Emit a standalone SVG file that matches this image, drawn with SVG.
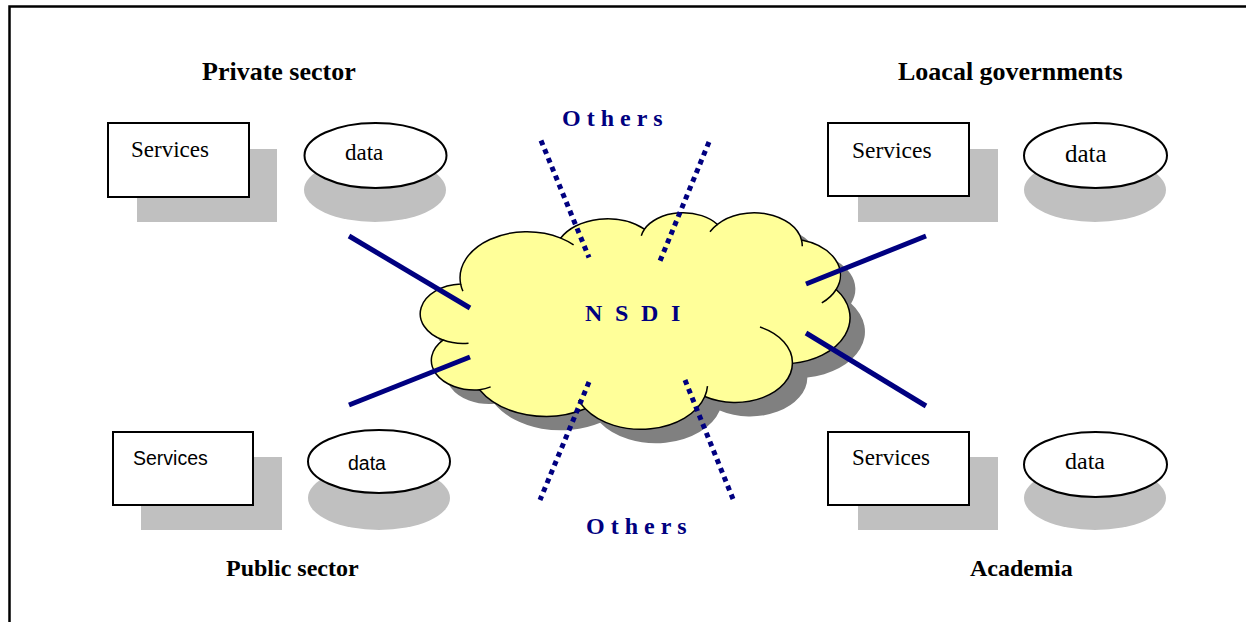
<svg xmlns="http://www.w3.org/2000/svg" width="1246" height="622" viewBox="0 0 1246 622">
<style>
.box{fill:#fff;stroke:#000;stroke-width:2}
.sh{fill:#c0c0c0}
.ell{fill:#fff;stroke:#000;stroke-width:2}
.tt{font-family:"Liberation Serif","Times New Roman",serif;fill:#000}
.ta{font-family:"Liberation Sans",Arial,sans-serif;fill:#000}
.title{font-family:"Liberation Serif","Times New Roman",serif;font-weight:bold;fill:#000}
.blue{font-family:"Liberation Serif","Times New Roman",serif;font-weight:bold;fill:#000080}
.solid{stroke:#000080;stroke-width:5;fill:none}
.dot{stroke:#000080;stroke-width:5;stroke-dasharray:5 4.5;fill:none}
</style>
<defs>
<path id="cloudPath" vector-effect="non-scaling-stroke" d="M 3900 14370 A 6753 9190 0 0 1 14006 5203 A 5333 7267 0 0 1 22457 3434 A 4365 5945 0 0 1 29834 2481 A 4857 6595 0 0 1 38319 5577 A 5333 7273 0 0 1 41819 15461 A 6775 9220 0 0 1 37404 30203 A 5785 7867 0 0 1 28556 36813 A 6752 9215 0 0 1 16482 39266 A 7720 10543 0 0 1 5806 35472 A 4360 5918 0 0 1 2115 25550 A 4345 5945 0 0 1 3900 14370 Z"/>
</defs>
<rect x="9.5" y="6.5" width="1300" height="700" fill="#fff" stroke="#000" stroke-width="2.5"/>

<g id="private-sector">
<text class="title" x="202" y="80" font-size="26">Private sector</text>
<rect class="sh" x="137" y="149" width="140" height="73"/>
<rect class="box" x="108" y="123" width="141" height="74"/>
<text class="tt" x="131" y="157" font-size="23">Services</text>
<ellipse class="sh" cx="375" cy="190" rx="71" ry="32"/>
<ellipse class="ell" cx="375.5" cy="155.5" rx="71" ry="32.5"/>
<text class="tt" x="345" y="160" font-size="23">data</text>
</g>

<g id="local-governments">
<text class="title" x="898" y="80" font-size="26">Loacal governments</text>
<rect class="sh" x="858" y="149" width="140" height="73"/>
<rect class="box" x="828" y="123" width="141" height="73"/>
<text class="tt" x="852" y="158" font-size="23.5">Services</text>
<ellipse class="sh" cx="1095" cy="190" rx="71" ry="32"/>
<ellipse class="ell" cx="1095.5" cy="155.5" rx="71.5" ry="32.5"/>
<text class="tt" x="1065" y="162" font-size="25">data</text>
</g>

<g id="public-sector">
<rect class="sh" x="141" y="457" width="141" height="73"/>
<rect class="box" x="113" y="432" width="140" height="73"/>
<text class="ta" x="133" y="465" font-size="19.5">Services</text>
<ellipse class="sh" cx="379" cy="498" rx="71" ry="32"/>
<ellipse class="ell" cx="379" cy="461.5" rx="71" ry="31.5"/>
<text class="ta" x="348" y="470" font-size="19.5">data</text>
<text class="title" x="226" y="576" font-size="24">Public sector</text>
</g>

<g id="academia">
<rect class="sh" x="858" y="457" width="140" height="73"/>
<rect class="box" x="828" y="432" width="141" height="73"/>
<text class="tt" x="852" y="465" font-size="23">Services</text>
<ellipse class="sh" cx="1095" cy="498" rx="71" ry="32"/>
<ellipse class="ell" cx="1095.5" cy="464.5" rx="71.5" ry="32.5"/>
<text class="tt" x="1065" y="469" font-size="24">data</text>
<text class="title" x="970" y="576" font-size="24">Academia</text>
</g>

<g id="nsdi">
<g transform="translate(437,226) scale(0.009902,0.005012)">
<use href="#cloudPath" fill="#808080"/>
</g>
<g transform="translate(422.05,212) scale(0.009902,0.005012)">
<use href="#cloudPath" fill="#ffff99" stroke="#000" stroke-width="1.5"/>
<path vector-effect="non-scaling-stroke" fill="none" stroke="#000" stroke-width="1.5" d="M 4693 26177 A 4345 5945 0 0 1 2115 25550 M 6928 34899 A 4360 5918 0 0 1 5806 35472 M 16482 39266 A 6752 9215 0 0 1 15812 37525 M 28827 34751 A 6752 9215 0 0 1 28556 36813 M 34129 22954 A 5785 7867 0 0 1 37404 30203 M 41819 15461 A 5333 7273 0 0 1 40371 18138 M 38319 5577 A 4857 6595 0 0 1 38396 6841 M 29078 3952 A 4857 6595 0 0 1 29834 2481 M 22141 4720 A 4365 5945 0 0 1 22457 3434 M 14006 5203 A 6753 9190 0 0 1 15306 6552 M 4127 15789 A 6753 9190 0 0 1 3900 14370"/>
</g>
<text class="blue" x="585" y="321" font-size="24" letter-spacing="3.35">N S D I</text>
</g>

<g id="others-top">
<text class="blue" x="562" y="126" font-size="24" letter-spacing="6">Others</text>
</g>
<g id="others-bottom">
<text class="blue" x="586" y="534" font-size="24" letter-spacing="6">Others</text>
</g>

<g id="connectors">
<line class="solid" x1="349" y1="236" x2="470" y2="308"/>
<line class="solid" x1="349" y1="405" x2="470" y2="357"/>
<line class="solid" x1="806" y1="284" x2="926" y2="236"/>
<line class="solid" x1="806" y1="333" x2="926" y2="406"/>
<line class="dot" x1="541" y1="140.5" x2="589" y2="257.5"/>
<line class="dot" x1="709" y1="142" x2="660" y2="261"/>
<line class="dot" x1="589" y1="382" x2="540" y2="500"/>
<line class="dot" x1="685" y1="380" x2="733" y2="499"/>
</g>
</svg>
